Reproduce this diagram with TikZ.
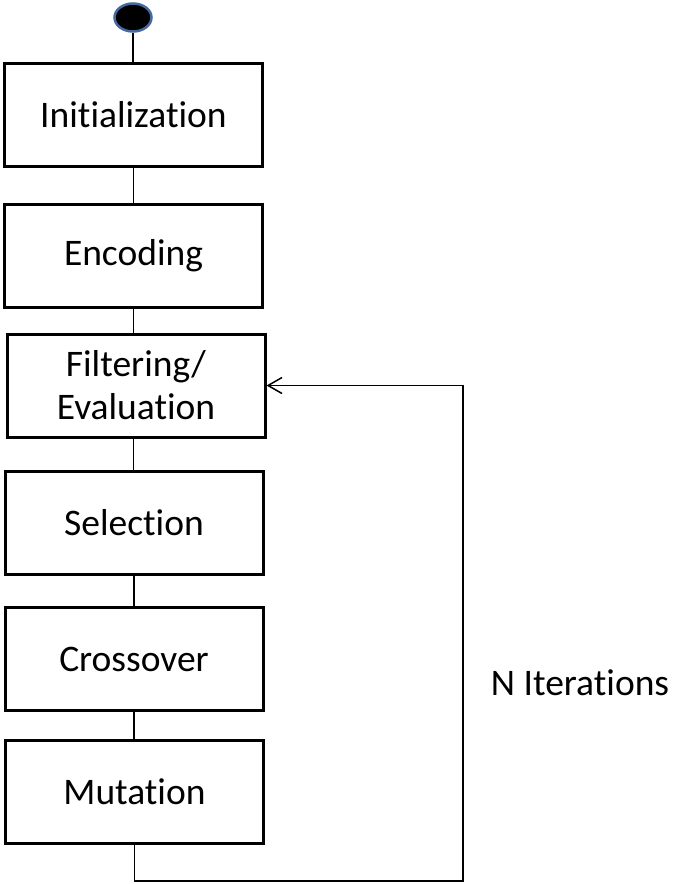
\documentclass[tikz,border=0pt]{standalone}
\usepackage{fontspec}
\setmainfont{Carlito}[Ligatures=NoCommon, RawFeature={-liga;-dlig;-clig}]
\usepackage{tikz}
\usetikzlibrary{shapes.geometric,arrows.meta}

\definecolor{startblue}{RGB}{70,105,160}

\tikzset{
stepbox/.style={draw=black, line width=3pt, fill=white, minimum width=258pt, minimum height=103pt, inner sep=2pt, align=center, font=\fontsize{37.5}{43}\selectfont},
link/.style={draw=black, line width=1.5pt}
}

\begin{document}
\begin{tikzpicture}[x=1pt, y=-1pt]
\useasboundingbox (0,0) rectangle (694,884);

% start point
\node (start) [ellipse, draw=startblue, fill=black, line width=2.5pt, minimum width=37pt, minimum height=28pt, inner sep=0pt] at (133,17.5) {};

% steps
\node (init) [stepbox] at (133.5,114.5) {Initialization};
\node (enc) [stepbox] at (133.5,256) {Encoding};
\node (filt) [stepbox] at (136,385.5) {Filtering/\\Evaluation};
\node (sel) [stepbox] at (134,523) {Selection};
\node (cross) [stepbox] at (134,659) {Crossover};
\node (mut) [stepbox] at (134.5,792) {Mutation};

\draw[link] (start.south) -- (start.south |- init.north);
\draw[link] (init.south) -- (init.south |- enc.north);
\draw[link] (enc.south) -- (enc.south |- filt.north);
\draw[link] (enc.south |- filt.south) -- (enc.south |- sel.north);
\draw[link] (sel.south) -- (sel.south |- cross.north);
\draw[link] (cross.south) -- (cross.south |- mut.north);

% loop back
\coordinate (loopcorner) at (463,881);
\draw[link, -{Straight Barb[length=14pt, width=16pt, line width=1.5pt]}] (mut.south) |- (loopcorner) |- (filt.east);

\node (iter) [font=\fontsize{37.5}{43}\selectfont] at (580,683) {N Iterations};
\end{tikzpicture}
\end{document}
